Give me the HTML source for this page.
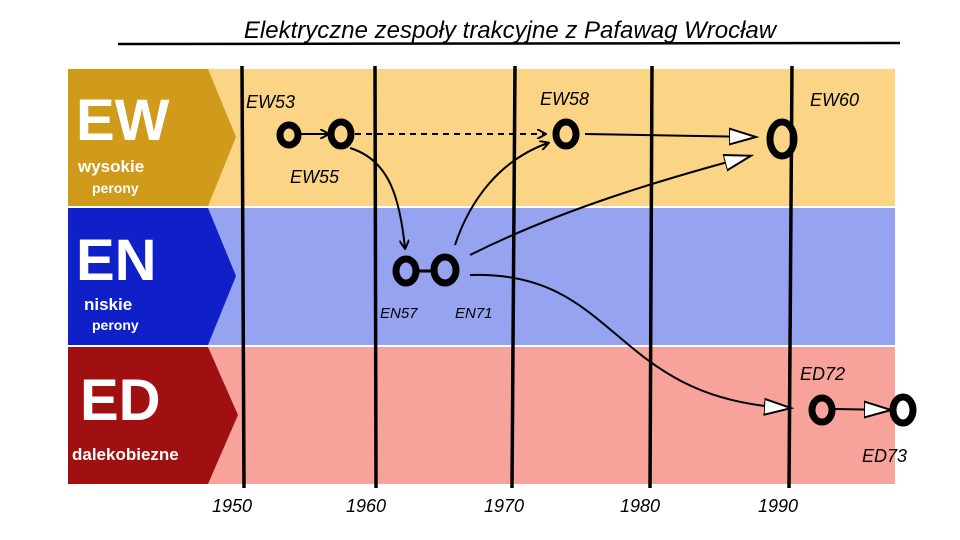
<!DOCTYPE html>
<html><head><meta charset="utf-8"><style>
body{margin:0;background:#fff}
svg{display:block}
text{font-family:"Liberation Sans",sans-serif}
</style></head><body>
<svg width="960" height="540" viewBox="0 0 960 540">
<defs>
<marker id="ah" markerWidth="10" markerHeight="10" refX="8" refY="5" orient="auto" markerUnits="userSpaceOnUse"><path d="M0,0 L9,5 L0,10" fill="none" stroke="#000" stroke-width="2"/></marker>
<marker id="aw" markerWidth="30" markerHeight="20" refX="26" refY="10" orient="auto" markerUnits="userSpaceOnUse"><path d="M0,2 L27,10 L0,18 Z" fill="#fff" stroke="#000" stroke-width="2"/></marker>
</defs>
<text x="510" y="38" font-size="24" font-style="italic" text-anchor="middle" fill="#000">Elektryczne zespoły trakcyjne z Pafawag Wrocław</text>
<line x1="118" y1="44" x2="900" y2="43" stroke="#000" stroke-width="2.5"/>
<rect x="68" y="69" width="827" height="137" fill="#fbd485"/>
<rect x="68" y="208" width="827" height="137" fill="#95a3f0"/>
<rect x="68" y="347" width="827" height="137" fill="#f7a29a"/>
<polygon points="68,69 208,69 236,137 208,206 68,206" fill="#d09a1a"/>
<polygon points="68,208 208,208 236,276 208,345 68,345" fill="#1020c8"/>
<polygon points="68,347 208,347 238,415 208,484 68,484" fill="#a01010"/>
<g fill="#fff" font-weight="bold">
<text x="76" y="140" font-size="58">EW</text>
<text x="78" y="172" font-size="17">wysokie</text>
<text x="92" y="193" font-size="14">perony</text>
<text x="76" y="280" font-size="58">EN</text>
<text x="84" y="310" font-size="17">niskie</text>
<text x="92" y="330" font-size="14">perony</text>
<text x="80" y="420" font-size="58">ED</text>
<text x="72" y="460" font-size="17">dalekobiezne</text>
</g>
<g stroke="#000" stroke-width="3.5">
<line x1="242" y1="66" x2="244" y2="488"/>
<line x1="375" y1="66" x2="376" y2="488"/>
<line x1="515" y1="66" x2="512" y2="488"/>
<line x1="652" y1="66" x2="650" y2="488"/>
<line x1="792" y1="66" x2="789" y2="488"/>
</g>
<g font-size="18" fill="#000" font-style="italic">
<text x="212" y="512">1950</text><text x="346" y="512">1960</text><text x="484" y="512">1970</text>
<text x="620" y="512">1980</text><text x="758" y="512">1990</text>
<text x="246" y="108">EW53</text><text x="290" y="183">EW55</text>
<text x="540" y="105">EW58</text><text x="810" y="106">EW60</text>
<text x="380" y="318" font-size="15">EN57</text><text x="455" y="318" font-size="15">EN71</text>
<text x="800" y="380">ED72</text><text x="862" y="462">ED73</text>
</g>
<g fill="none" stroke="#000" stroke-width="2">
<line x1="300" y1="134" x2="328" y2="134" marker-end="url(#ah)"/>
<line x1="355" y1="134" x2="545" y2="134" stroke-dasharray="6,5" marker-end="url(#ah)"/>
<path d="M350,148 C390,160 400,200 405,248" marker-end="url(#ah)"/>
<path d="M455,245 C470,200 500,160 548,143" marker-end="url(#ah)"/>
<line x1="585" y1="134" x2="755" y2="137" marker-end="url(#aw)"/>
<path d="M470,255 C560,210 660,180 750,156" marker-end="url(#aw)"/>
<path d="M470,275 C620,270 610,400 790,408" marker-end="url(#aw)"/>
<line x1="835" y1="409" x2="890" y2="410" marker-end="url(#aw)"/>
</g>
<g fill="none" stroke="#000" stroke-width="7">
<ellipse cx="289" cy="135" rx="9" ry="10"/>
<ellipse cx="341" cy="134" rx="10" ry="12"/>
<ellipse cx="566" cy="134" rx="10" ry="12"/>
<ellipse cx="782" cy="139" rx="12" ry="17"/>
<ellipse cx="406" cy="271" rx="10" ry="12"/>
<ellipse cx="445" cy="270" rx="11" ry="13"/>
<line x1="416" y1="271" x2="434" y2="271" stroke-width="3"/>
<ellipse cx="822" cy="410" rx="10" ry="12"/>
<ellipse cx="903" cy="410" rx="10" ry="13"/>
</g>
</svg>
</body></html>
